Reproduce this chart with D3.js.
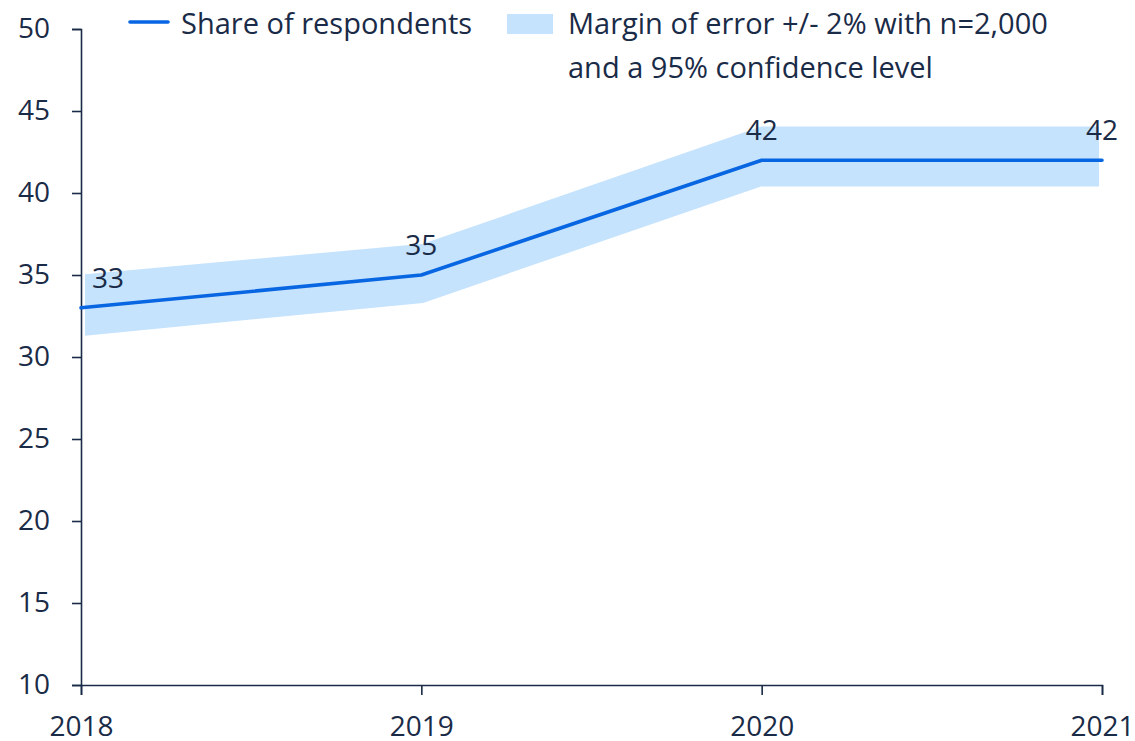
<!DOCTYPE html>
<html>
<head>
<meta charset="utf-8">
<script src="https://cdn.jsdelivr.net/npm/d3@7"></script>
<style>
  body { margin: 0; background: #fff; }
  svg { display: block; font-family: "Open Sans", "Noto Sans", sans-serif; }
</style>
</head>
<body>
<svg width="1135" height="741"></svg>
<script>
  var years = [2018, 2019, 2020, 2021]
  var share = [33, 35, 42, 42]
  var upper = [35.05, 36.9, 44.05, 44.05]
  var lower = [31.3, 33.3, 40.4, 40.4]
  var yTicks = [10, 15, 20, 25, 30, 35, 40, 45, 50]
  var legendLabels = ["Share of respondents", "Margin of error +/- 2% with n=2,000", "and a 95% confidence level"]

  var ink = "#1a2b47"
  var blue = "#0866e2"
  var bandFill = "#c5e3fc"

  var data = years.map((y, i) => ({year: y, value: share[i], hi: upper[i], lo: lower[i]}))

  var svg = d3.select("svg")

  var x = d3.scaleLinear().domain([2018, 2021]).range([81, 1102])
  var xBand = d3.scaleLinear().domain([2018, 2021]).range([85, 1099])
  var y = d3.scaleLinear().domain([10, 50]).range([685, 29])

  // confidence band
  svg.append("path")
    .datum(data)
    .attr("fill", bandFill)
    .attr("d", d3.area()
      .x(d => xBand(d.year))
      .y0(d => y(d.lo))
      .y1(d => y(d.hi)))

  // axes
  svg.append("g")
    .attr("transform", `translate(${x(2018)},0)`)
    .call(d3.axisLeft(y).tickValues(yTicks).tickSize(9).tickPadding(22))
  svg.append("g")
    .attr("transform", `translate(0,${y(10)})`)
    .call(d3.axisBottom(x).tickValues(years).tickFormat(d3.format("d")).tickSize(10).tickPadding(21))

  svg.selectAll(".domain, .tick line").attr("stroke", ink).attr("stroke-width", 1.6)
  svg.selectAll(".tick text").attr("fill", ink).style("font-size", "28px").style("font-family", "Open Sans")

  // share line
  svg.append("path")
    .datum(data)
    .attr("fill", "none")
    .attr("stroke", blue)
    .attr("stroke-width", 3.6)
    .attr("stroke-linecap", "round")
    .attr("stroke-linejoin", "round")
    .attr("d", d3.line().x(d => x(d.year)).y(d => y(d.value)))

  // value labels
  svg.append("g")
    .selectAll("text")
    .data(data)
    .join("text")
    .attr("x", (d, i) => i == 0 ? x(d.year) + 11 : x(d.year))
    .attr("y", d => y(d.value) - 20)
    .attr("text-anchor", (d, i) => i == 0 ? "start" : "middle")
    .attr("fill", ink)
    .style("font-size", "28px")
    .text(d => d.value)

  // legend
  var legend = svg.append("g").attr("fill", ink).style("font-size", "29px")
  legend.append("line")
    .attr("x1", 130).attr("x2", 168).attr("y1", 22).attr("y2", 22)
    .attr("stroke", blue).attr("stroke-width", 3.6).attr("stroke-linecap", "round")
  legend.append("text").attr("x", 181).attr("y", 34).text(legendLabels[0])
  legend.append("rect")
    .attr("x", 507).attr("y", 14).attr("width", 46).attr("height", 20)
    .attr("fill", bandFill)
  legend.append("text").attr("x", 568).attr("y", 34).text(legendLabels[1])
  legend.append("text").attr("x", 568).attr("y", 78).text(legendLabels[2])
</script>
</body>
</html>
